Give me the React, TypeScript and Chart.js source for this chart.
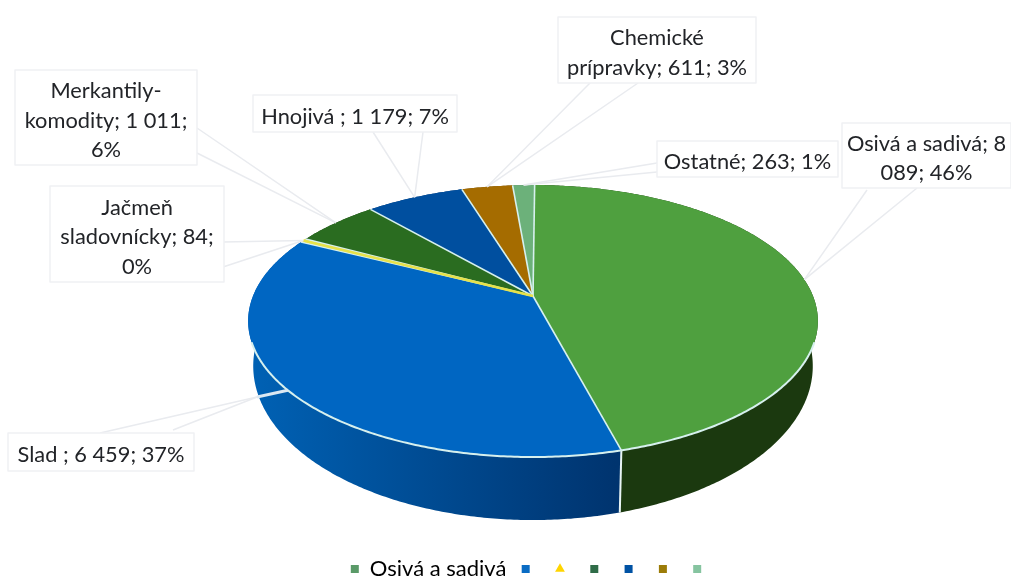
import React, { useEffect, useRef } from "react";
import { Chart, registerables } from "chart.js";

Chart.register(...registerables);

const categories = ["Osivá a sadivá", "Slad", "Jačmeň sladovnícky", "Merkantily-komodity", "Hnojivá", "Chemické prípravky", "Ostatné"];
const values = [8089, 6459, 84, 1011, 1179, 611, 263];
const sliceColors = ["#4fa03f", "#0066c2", "#e6e24a", "#2a6c20", "#004f9f", "#a56c00", "#6cb17a"];
const legendColors = ["#5a9a68", "#0a6cc4", "#ffd500", "#2f6c48", "#0052a4", "#9c7c08", "#86c4a0"];
const wallColors: string[][] = [
  ["#1c3d0e", "#1b390f"],
  ["#0061b4", "#00346f"],
  ["#a0a030", "#a0a030"],
  ["#1a4514", "#1a4514"],
  ["#003670", "#003670"],
  ["#6d4700", "#6d4700"],
  ["#44744f", "#44744f"],
];
const labelLines = [
  ["Osivá a sadivá; 8", "089; 46%"],
  ["Slad ; 6 459; 37%"],
  ["Jačmeň", "sladovnícky; 84;", "0%"],
  ["Merkantily-", "komodity; 1 011;", "6%"],
  ["Hnojivá ; 1 179; 7%"],
  ["Chemické", "prípravky; 611; 3%"],
  ["Ostatné; 263; 1%"],
];

// Layout of the label boxes: left, top, right, bottom, and the points where the two leader lines leave the box.
const labelBoxes = [
  { box: [842, 123, 1011, 188], from: [[867, 190], [917, 188]] },
  { box: [8, 433, 194, 471], from: [[100, 433], [173, 430]], via: [257, 397] },
  { box: [50, 186, 224, 282], from: [[223, 242], [223, 267]] },
  { box: [15, 70, 197, 165], from: [[197, 128], [197, 153]] },
  { box: [253, 95, 457, 132], from: [[373, 132], [423, 132]] },
  { box: [558, 17, 756, 83], from: [[590, 83], [638, 83]] },
  { box: [657, 141, 838, 177], from: [[657, 163], [657, 172]] },
];

const FONT = "Lato, Carlito, sans-serif";
const TOP = { cx: 533, cy: 296, a: 280, b: 131.4, k: -0.184 };
const LOW = { cx: 533, cy: 337.7, a: 275, b: 148.8, k: -0.184 };
const RIM_GAP = 0.337;

type Face = typeof TOP;
const project = (f: Face, t: number): [number, number] => {
  const u = Math.cos(t);
  const v = Math.sin(t);
  const w = 1 + f.k * v;
  return [f.cx + (f.a * u) / w, f.cy + (f.b * v) / w];
};

const pie3d = {
  id: "pie3d",
  beforeDatasetsDraw(chart: any) {
    const { ctx } = chart;
    const arcs = chart.getDatasetMeta(0).data as any[];
    const sweep = (f: Face, a0: number, a1: number, first: boolean) => {
      const n = Math.max(2, Math.ceil(Math.abs(a1 - a0) / 0.01));
      for (let i = 0; i <= n; i++) {
        const p = project(f, a0 + ((a1 - a0) * i) / n);
        if (first && i === 0) ctx.moveTo(p[0], p[1]);
        else ctx.lineTo(p[0], p[1]);
      }
    };
    ctx.save();
    ctx.lineJoin = "round";
    // side wall
    arcs.forEach((arc, i) => {
      const a0 = arc.startAngle;
      const a1 = arc.endAngle;
      ctx.beginPath();
      sweep(TOP, a0, a1, true);
      sweep(LOW, a1, a0, false);
      ctx.closePath();
      const p0 = project(TOP, Math.PI);
      const p1 = project(TOP, Math.atan2(0.97, 0.243));
      const g = ctx.createLinearGradient(p0[0], 0, p1[0], 0);
      g.addColorStop(0, wallColors[i][0]);
      g.addColorStop(1, wallColors[i][1]);
      ctx.fillStyle = g;
      ctx.fill();
    });
    // wall seam between the two front slices
    const seam = arcs[0].endAngle;
    const s0 = project(TOP, seam);
    const s1 = project(LOW, seam);
    ctx.strokeStyle = "#e8f4f4";
    ctx.lineWidth = 2;
    ctx.beginPath();
    ctx.moveTo(s0[0], s0[1]);
    ctx.lineTo(s1[0], s1[1]);
    ctx.stroke();
    // top face
    arcs.forEach((arc, i) => {
      ctx.beginPath();
      ctx.moveTo(TOP.cx, TOP.cy);
      sweep(TOP, arc.startAngle, arc.endAngle, false);
      ctx.closePath();
      ctx.fillStyle = sliceColors[i];
      ctx.fill();
    });
    // light edges
    ctx.strokeStyle = "#d6f0ee";
    ctx.lineWidth = 1.6;
    arcs.forEach((arc) => {
      const e = project(TOP, arc.startAngle);
      ctx.beginPath();
      ctx.moveTo(TOP.cx, TOP.cy);
      ctx.lineTo(e[0], e[1]);
      ctx.stroke();
    });
    // very narrow slices stay visible over their edges
    arcs.forEach((arc, i) => {
      if (arc.endAngle - arc.startAngle < 0.05) {
        const e = project(TOP, (arc.startAngle + arc.endAngle) / 2);
        ctx.strokeStyle = sliceColors[i];
        ctx.lineWidth = 2.6;
        ctx.beginPath();
        ctx.moveTo(TOP.cx, TOP.cy);
        ctx.lineTo(e[0], e[1]);
        ctx.stroke();
      }
    });
    ctx.strokeStyle = "#d6f0ee";
    ctx.lineWidth = 2;
    ctx.beginPath();
    sweep(TOP, RIM_GAP, Math.PI - RIM_GAP, true);
    ctx.stroke();
    // leaders and label boxes
    arcs.forEach((arc, i) => {
      const anchor = project(TOP, (arc.startAngle + arc.endAngle) / 2);
      const spec: any = labelBoxes[i];
      ctx.strokeStyle = "#e9ebef";
      ctx.lineWidth = 1.5;
      spec.from.forEach((p: number[]) => {
        const end = spec.via || anchor;
        ctx.beginPath();
        ctx.moveTo(p[0], p[1]);
        ctx.lineTo(end[0], end[1]);
        ctx.stroke();
      });
      if (spec.via) {
        ctx.strokeStyle = "#dce8f2";
        ctx.lineWidth = 3;
        ctx.beginPath();
        ctx.moveTo(spec.via[0], spec.via[1]);
        ctx.lineTo(anchor[0], anchor[1]);
        ctx.stroke();
      }
    });
    arcs.forEach((_arc, i) => {
      const [l, t, r, b] = labelBoxes[i].box;
      ctx.fillStyle = "#ffffff";
      ctx.fillRect(l, t, r - l, b - t);
      ctx.strokeStyle = "#f0f1f4";
      ctx.lineWidth = 1.5;
      ctx.strokeRect(l, t, r - l, b - t);
      const lines = labelLines[i];
      ctx.fillStyle = "#222428";
      ctx.font = `21.8px ${FONT}`;
      ctx.textAlign = "center";
      ctx.textBaseline = "middle";
      const lh = 29.5;
      const y0 = (t + b) / 2 - ((lines.length - 1) * lh) / 2 + 3;
      lines.forEach((s, j) => ctx.fillText(s, (l + r) / 2, y0 + j * lh));
    });
    ctx.restore();
    return false;
  },
};

export default function App() {
  const ref = useRef<HTMLCanvasElement>(null);
  useEffect(() => {
    const chart = new Chart(ref.current!, {
      type: "pie",
      data: {
        labels: categories,
        datasets: [{ data: values, backgroundColor: sliceColors, borderWidth: 0 }],
      },
      options: {
        animation: false,
        responsive: false,
        devicePixelRatio: 1,
        rotation: 0.4,
        layout: { padding: { left: 52, bottom: -14 } },
        plugins: {
          tooltip: { enabled: false },
          legend: {
            display: true,
            position: "bottom",
            labels: {
              usePointStyle: true,
              boxWidth: 8,
              boxHeight: 8,
              padding: 15.3,
              color: "#2a2c30",
              font: { family: FONT, size: 22 },
              generateLabels: () =>
                categories.map((c, i) => ({
                  text: i === 0 ? c : "",
                  fillStyle: legendColors[i],
                  strokeStyle: legendColors[i],
                  lineWidth: 0,
                  pointStyle: i === 2 ? "triangle" : "rect",
                  hidden: false,
                  index: i,
                })),
            },
          },
        },
      } as any,
      plugins: [pie3d],
    });
    return () => chart.destroy();
  }, []);
  return (
    <div style={{ position: "absolute", left: 0, top: 0, width: 1011, height: 576, background: "#fff" }}>
      <canvas ref={ref} width={1011} height={576} style={{ display: "block" }} />
    </div>
  );
}
